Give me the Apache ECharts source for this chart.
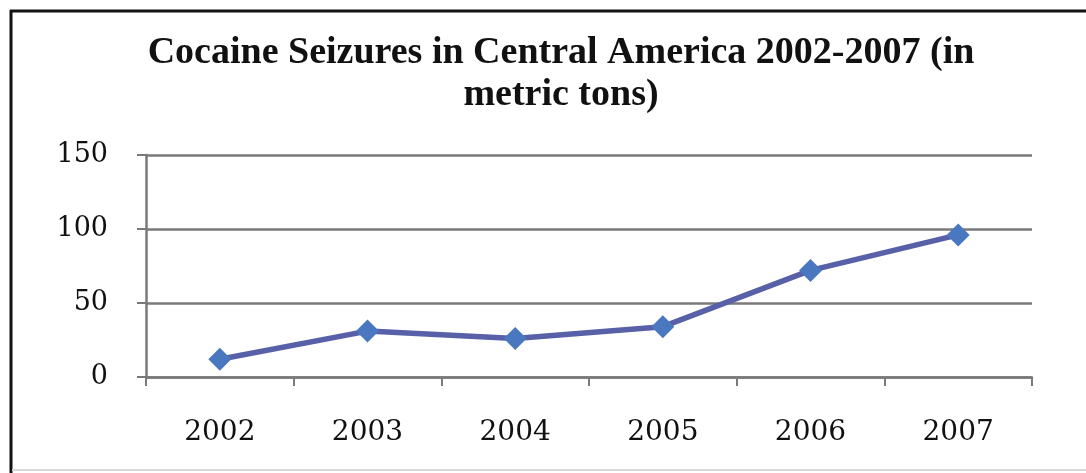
<!DOCTYPE html>
<html>
<head>
<meta charset="utf-8">
<script src="https://cdn.jsdelivr.net/npm/echarts@6/dist/echarts.min.js"></script>
<style>
html,body{margin:0;padding:0;background:#fff;}
#chart{width:1086px;height:473px;}
</style>
</head>
<body>
<div id="chart"></div>
<script>
var titleText = 'Cocaine Seizures in Central America 2002-2007 (in\nmetric tons)';
var years = ['2002', '2003', '2004', '2005', '2006', '2007'];
var seizures = [12, 31, 26, 34, 72, 96];
var yTicks = { min: 0, max: 150, interval: 50 };

var chart = echarts.init(document.getElementById('chart'));
chart.setOption({
  backgroundColor: '#ffffff',
  animation: false,
  title: {
    text: titleText,
    left: 556,
    textAlign: 'center',
    top: 27,
    textStyle: {
      fontFamily: 'Liberation Serif',
      fontWeight: 'bold',
      fontSize: 38,
      lineHeight: 42,
      color: '#111'
    }
  },
  grid: { left: 146, right: 54, top: 155, bottom: 96 },
  xAxis: {
    type: 'category',
    data: years,
    boundaryGap: true,
    axisLine: { lineStyle: { color: '#7a7a7a', width: 2.5 } },
    axisTick: { show: true, length: 9, lineStyle: { color: '#7a7a7a', width: 2 } },
    axisLabel: { fontFamily: 'DejaVu Serif', fontSize: 28, color: '#111', margin: 42 }
  },
  yAxis: {
    type: 'value',
    min: yTicks.min,
    max: yTicks.max,
    interval: yTicks.interval,
    axisLine: { show: true, lineStyle: { color: '#7a7a7a', width: 2.5 } },
    axisTick: { show: true, length: 9, lineStyle: { color: '#7a7a7a', width: 2 } },
    axisLabel: { fontFamily: 'DejaVu Serif', fontSize: 27, color: '#111', margin: 38 },
    splitLine: { show: true, lineStyle: { color: '#7a7a7a', width: 2.5 } }
  },
  series: [{
    type: 'line',
    data: seizures,
    symbol: 'diamond',
    symbolSize: 23,
    lineStyle: { color: '#5860a8', width: 5.5 },
    itemStyle: { color: '#4a78c0' }
  }],
  graphic: [
    { type: 'line', shape: { x1: 10, y1: 11, x2: 1086, y2: 11 }, style: { stroke: '#111', lineWidth: 3 } },
    { type: 'line', shape: { x1: 11, y1: 10, x2: 11, y2: 473 }, style: { stroke: '#111', lineWidth: 3 } },
    { type: 'line', shape: { x1: 12, y1: 470, x2: 1086, y2: 470 }, style: { stroke: '#d8d8d8', lineWidth: 2 } }
  ]
});
</script>
</body>
</html>
